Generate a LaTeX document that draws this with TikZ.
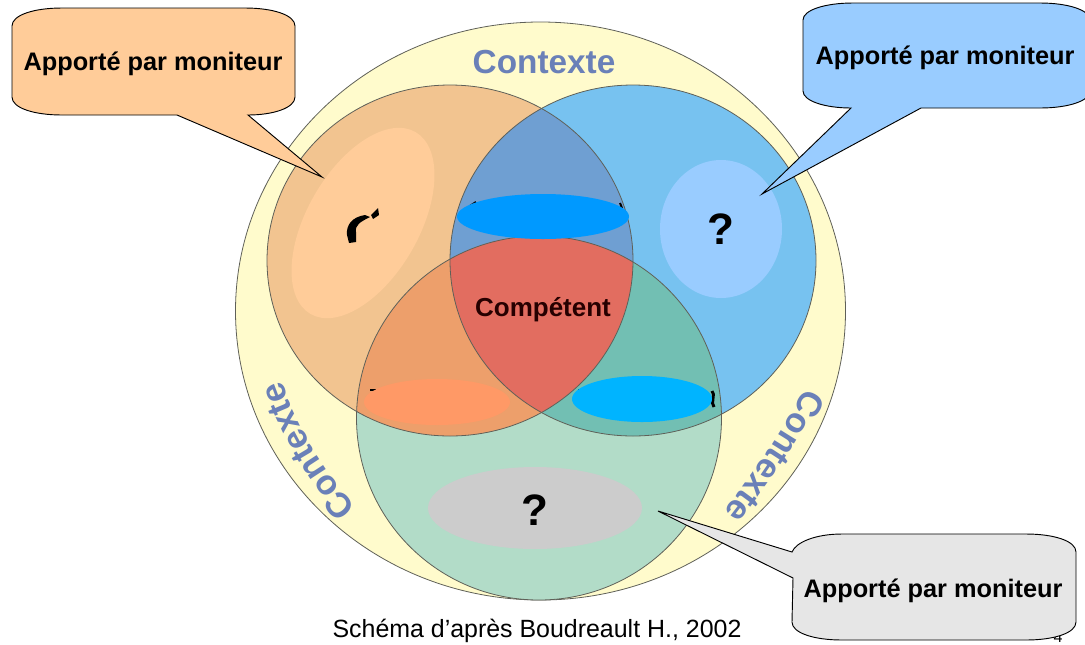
\documentclass[tikz,border=0pt]{standalone}
\usepackage{fontspec}
\setmainfont{Liberation Sans}
\usetikzlibrary{decorations.text}
\definecolor{creme}{HTML}{FFFBCC}
\definecolor{orangec}{HTML}{F2C490}
\definecolor{bleuc}{HTML}{77C2F0}
\definecolor{vertc}{HTML}{B2DCC8}
\definecolor{orbl}{HTML}{6F9FD2}
\definecolor{orve}{HTML}{ED9F6B}
\definecolor{blve}{HTML}{72BFB3}
\definecolor{centre}{HTML}{E26D60}
\definecolor{ctx}{HTML}{6A80B8}
\definecolor{trait}{HTML}{5F6058}
\tikzset{
	cercle/.style={draw=trait, line width=0.6pt},
	bulle/.style={draw=black, line width=0.7pt},
	titre/.style={font=\fontsize{19}{21}\selectfont\bfseries},
	ques/.style={font=\fontsize{33}{35}\selectfont\bfseries},
	bout/.style={draw=black, line width=1.5pt},
	ctxarc/.style={decorate, decoration={text along path, text align=center, text={|\fontsize{26}{26}\selectfont\bfseries\color{ctx}|Contexte}}}
}
\begin{document}
\begin{tikzpicture}[x=0.75pt,y=0.75pt,yscale=-1,xscale=1]
	\useasboundingbox (0,0) rectangle (1085,644);

	%circles
	\fill [creme] (540.5,311) ellipse (305 and 289);
	\draw [cercle] (540.5,311) ellipse (305 and 289);
	\fill [orangec] (450,260.5) ellipse (183 and 175.5);
	\fill [bleuc] (633,260.5) ellipse (183 and 175.5);
	\fill [vertc] (539,418) ellipse (182.5 and 182);
	\begin{scope}
		\clip (450,260.5) ellipse (183 and 175.5);
		\fill [orbl] (633,260.5) ellipse (183 and 175.5);
		\fill [orve] (539,418) ellipse (182.5 and 182);
		\clip (633,260.5) ellipse (183 and 175.5);
		\fill [centre] (539,418) ellipse (182.5 and 182);
	\end{scope}
	\begin{scope}[even odd rule]
		\clip (-10,-10) rectangle (1100,660) (450,260.5) ellipse (183 and 175.5);
		\clip (633,260.5) ellipse (183 and 175.5);
		\fill [blve] (539,418) ellipse (182.5 and 182);
	\end{scope}
	\draw [cercle] (450,260.5) ellipse (183 and 175.5);
	\draw [cercle] (633,260.5) ellipse (183 and 175.5);
	\draw [cercle] (539,418) ellipse (182.5 and 182);

	%ellipses
	\fill [fill={rgb,255:red,255;green,204;blue,153}, rotate around={30:(363,223)}] (363,223) ellipse (56 and 105);
	\fill (347,235) .. controls (346,225) and (352,217) .. (365,215) -- (370,217) .. controls (360,222) and (355,225) .. (356,232) -- (356,242) -- (349,243) -- cycle;
	\fill (371,215) -- (378,208) -- (379,215) -- (373,219) -- cycle;
	\draw [bout] (470,206) -- (476,202);
	\draw [bout] (620,203) -- (622,208);
	\draw [bout] (370,390) -- (376,390);
	\draw [bout] (579,389) -- (579,393);
	\draw [bout, line width=2.2pt] (712,391) .. controls (716,394) and (710,403) .. (714,407);
	\fill [fill={rgb,255:red,153;green,204;blue,255}] (721,229) ellipse (61 and 69);
	\fill [fill={rgb,255:red,0;green,153;blue,255}] (543,216.5) ellipse (86 and 22.5);
	\fill [fill={rgb,255:red,255;green,153;blue,102}] (437,402) ellipse (73 and 23);
	\fill [fill={rgb,255:red,0;green,180;blue,255}] (642,399) ellipse (70 and 23);
	\fill [fill={rgb,255:red,204;green,204;blue,204}] (535,508) ellipse (107 and 41);

	\node (compet) at (543,310) [font=\fontsize{19.5}{21}\selectfont\bfseries, text=black!85!red] {Compétent};
	\node (quesbleu) at (721,229) [ques] {?};
	\node (quesgris) at (535,510) [ques] {?};
	\node (ctxhaut) at (544,62) [font=\fontsize{25}{25}\selectfont\bfseries, text=ctx] {Contexte};
	\node (source) at (537,631) [font=\fontsize{18.7}{20}\selectfont] {Schéma d’après Boudreault H., 2002};
	\node (pagenum) at (1058,637) [font=\fontsize{12}{14}\selectfont] {4};

	\path [ctxarc] (360,511) .. controls (331,482) and (298,432) .. (280,376);
	\path [ctxarc] (808,382) .. controls (784,429) and (754,474) .. (720,517);

	%callouts
	\draw [bulle, fill={rgb,255:red,255;green,204;blue,153}] (62,8) -- (245,8) .. controls (273,8) and (295,15) .. (295,26) -- (295,97) .. controls (295,108) and (273,115) .. (248,115) -- (322,177) -- (177,115) -- (62,115) .. controls (34,115) and (12,108) .. (12,97) -- (12,26) .. controls (12,15) and (34,8) .. (62,8) -- cycle;
	\node (appoorange) at (153,64) [titre] {Apporté par moniteur};
	\draw [bulle, fill={rgb,255:red,153;green,204;blue,255}] (853,3) -- (1040,3) .. controls (1068,3) and (1090,10) .. (1090,20) -- (1090,91) .. controls (1090,101) and (1068,108) .. (1040,108) -- (921,108) -- (762,194) -- (851,108) .. controls (825,108) and (803,101) .. (803,91) -- (803,20) .. controls (803,10) and (825,3) .. (853,3) -- cycle;
	\node (appobleu) at (945,58) [titre] {Apporté par moniteur};
	\draw [bulle, fill={rgb,255:red,230;green,230;blue,230}] (842,534) -- (1026,534) .. controls (1054,534) and (1076,541) .. (1076,552) -- (1076,622) .. controls (1076,633) and (1054,640) .. (1026,640) -- (842,640) .. controls (814,640) and (792,633) .. (792,622) -- (793,578) -- (658,511) -- (792,552) .. controls (796,542) and (816,534) .. (842,534) -- cycle;
	\node (appogris) at (933,591) [titre] {Apporté par moniteur};
\end{tikzpicture}
\end{document}
